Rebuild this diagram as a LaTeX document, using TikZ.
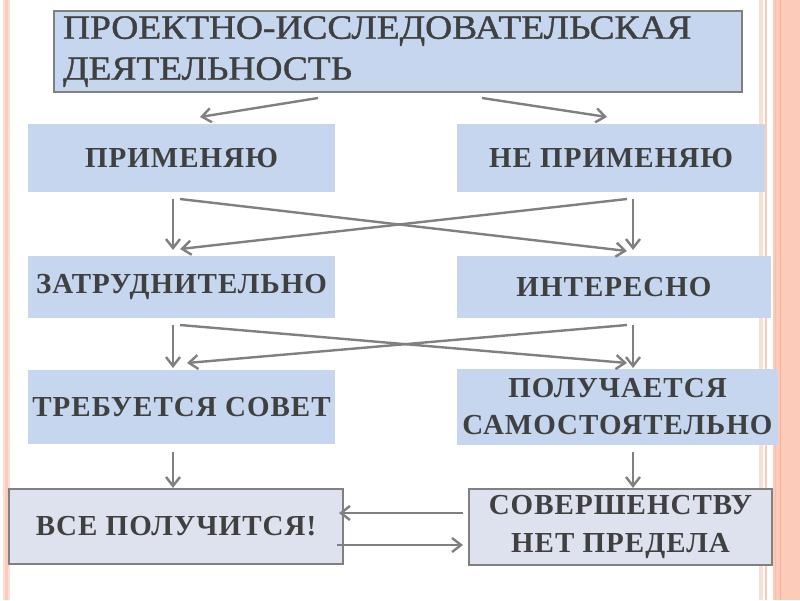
\documentclass[tikz,border=0pt]{standalone}
\usepackage{fontspec}
\setmainfont{Liberation Serif}
\newfontfamily\titlefont[FakeStretch=1.10,FakeBold=1.2]{Liberation Serif}
\newfontfamily\boxfont[LetterSpace=3.5]{Liberation Serif}
\usetikzlibrary{arrows.meta}
\definecolor{boxblue}{RGB}{198,214,238}
\definecolor{boxgray}{RGB}{222,226,238}
\definecolor{txtgray}{RGB}{64,64,64}
\definecolor{lngray}{RGB}{128,128,128}
\definecolor{stripe}{RGB}{253,203,185}
\definecolor{stripedark}{RGB}{246,178,152}
\definecolor{stripelight}{RGB}{253,222,212}
\tikzset{
  bluebox/.style={fill=boxblue, draw=none, text=txtgray, align=center, inner sep=0pt,
    font=\boxfont\bfseries\fontsize{29}{37}\selectfont},
  graybox/.style={fill=boxgray, draw=lngray, line width=2.2pt, text=txtgray, align=center, inner sep=0pt,
    font=\boxfont\bfseries\fontsize{29}{38}\selectfont},
  conn/.style={draw=lngray, line width=2.4pt, -{Straight Barb[length=9pt,width=14pt]}}
}
\begin{document}
\begin{tikzpicture}[x=1pt,y=-1pt]
\useasboundingbox (0,0) rectangle (800,600);
\fill[white] (0,0) rectangle (800,600);
% decorative stripes
\fill[stripelight] (3,0) rectangle (10,600);
\draw[stripe, line width=3pt] (6.5,0) -- (6.5,600);
\fill[stripelight] (759,0) rectangle (763,600);
\draw[stripe, line width=2pt] (766,0) -- (766,600);
\fill[stripe] (773,0) rectangle (800,600);
\draw[stripedark, line width=1pt] (780,0) -- (780,600);
\draw[stripedark!60!stripe, line width=1pt] (775,0) -- (775,600);
% title
\node[fill=boxblue, draw=lngray, line width=2.2pt, text=txtgray, anchor=north west,
  minimum width=688pt, minimum height=81pt, text width=670pt, inner xsep=9pt, inner ysep=0pt,
  align=left, font=\titlefont\fontsize{34}{41}\selectfont] (title) at (53,10)
  {ПРОЕКТНО-ИССЛЕДОВАТЕЛЬСКАЯ\\ДЕЯТЕЛЬНОСТЬ};
% boxes
\node[bluebox, minimum width=307pt, minimum height=68pt] (prim) at (181.5,158) {ПРИМЕНЯЮ};
\node[bluebox, minimum width=308pt, minimum height=68pt] (neprim) at (611,158) {НЕ ПРИМЕНЯЮ};
\node[bluebox, minimum width=307pt, minimum height=62pt] (zatr) at (181.5,287) {ЗАТРУДНИТЕЛЬНО};
\node[bluebox, minimum width=314pt, minimum height=62pt] (inter) at (614,287) {ИНТЕРЕСНО};
\node[bluebox, minimum width=307pt, minimum height=74pt] (sovet) at (181.5,407) {ТРЕБУЕТСЯ СОВЕТ};
\node[bluebox, minimum width=321pt, minimum height=76pt] (sam) at (617.5,407) {ПОЛУЧАЕТСЯ\\САМОСТОЯТЕЛЬНО};
\node[graybox, minimum width=334pt, minimum height=75pt] (vse) at (176,526.5) {ВСЕ ПОЛУЧИТСЯ!};
\node[graybox, minimum width=303pt, minimum height=76pt] (sov) at (620.5,527) {СОВЕРШЕНСТВУ\\НЕТ ПРЕДЕЛА};
% connector end points
\coordinate (t1) at (318,98);  \coordinate (t1e) at (200,117);
\coordinate (t2) at (482,98);  \coordinate (t2e) at (607,117);
\coordinate (a1) at (173,199); \coordinate (a1e) at (173,250);
\coordinate (a2) at (180,199); \coordinate (a2e) at (627,251);
\coordinate (a3) at (627,199); \coordinate (a3e) at (180,249);
\coordinate (a4) at (633,199); \coordinate (a4e) at (633,250);
\coordinate (b1) at (173,325); \coordinate (b1e) at (173,368);
\coordinate (b2) at (180,325); \coordinate (b2e) at (627,363);
\coordinate (b3) at (627,325); \coordinate (b3e) at (187,363);
\coordinate (b4) at (633,325); \coordinate (b4e) at (633,368);
\coordinate (c1) at (173,452);
\coordinate (c2) at (633,452);
\coordinate (h1) at (463,513); \coordinate (h1e) at (339,513);
\coordinate (h2) at (337,545); \coordinate (h2e) at (463,545);
% connectors
\draw[conn] (t1) -- (t1e);
\draw[conn] (t2) -- (t2e);
\draw[conn] (a1) -- (a1e);
\draw[conn] (a2) -- (a2e);
\draw[conn] (a3) -- (a3e);
\draw[conn] (a4) -- (a4e);
\draw[conn] (b1) -- (b1e);
\draw[conn] (b2) -- (b2e);
\draw[conn] (b3) -- (b3e);
\draw[conn] (b4) -- (b4e);
\draw[conn] (c1) -- (c1 |- vse.north);
\draw[conn] (c2) -- (c2 |- sov.north);
\draw[conn] (h1) -- (h1e);
\draw[conn] (h2) -- (h2e);
\end{tikzpicture}
\end{document}
